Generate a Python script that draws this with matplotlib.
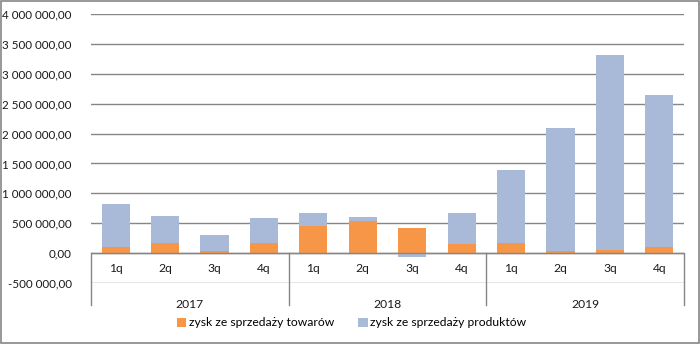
import numpy as np
import matplotlib
matplotlib.use("Agg")
import matplotlib.pyplot as plt
from matplotlib.ticker import FuncFormatter
from matplotlib.patches import Rectangle

# Data (PLN)
years = ["2017", "2018", "2019"]
quarters = ["1q", "2q", "3q", "4q"]
towary = [100000, 167000, 40000, 167000,
          455000, 533000, 417000, 150000,
          167000, 35000, 55000, 100000]
produkty = [717000, 450000, 265000, 417000,
            212000, 67000, -60000, 517000,
            1216000, 2050000, 3262000, 2550000]

plt.rcParams['font.family'] = ['Lato', 'DejaVu Sans']

c_tow = "#F79646"
c_prod = "#A9B9D8"
grid_c = "#868686"
txt_c = "#1a1a1a"

fig = plt.figure(figsize=(7, 3.44), dpi=100)
ax = fig.add_axes([91/700, 1-283/344, (684-91)/700, (283-14)/344])

x = np.arange(len(towary))
tow = np.array(towary)
prod = np.array(produkty)
# stacking like Excel: positive values go on top, negative ones below zero
bottom_prod = np.where(prod >= 0, np.maximum(tow, 0), 0)
ax.bar(x, tow, width=0.57, color=c_tow, label="zysk ze sprzedaży towarów", zorder=3)
ax.bar(x, prod, width=0.57, bottom=bottom_prod, color=c_prod,
       label="zysk ze sprzedaży produktów", zorder=3)

ax.set_xlim(-0.5, len(x) - 0.5)
ax.set_ylim(-500000, 4000000)
ax.set_yticks(np.arange(-500000, 4000001, 500000))
ax.yaxis.set_major_formatter(FuncFormatter(
    lambda v, p: f"{v:,.2f}".replace(",", " ").replace(".", ",")))
ax.tick_params(axis='y', length=0, pad=14, labelsize=8.4, labelcolor=txt_c)
ax.set_xticks([])
for s in ax.spines.values():
    s.set_visible(False)
ax.grid(axis='y', color=grid_c, linewidth=1, zorder=0)
ax.axhline(0, color=grid_c, linewidth=1, zorder=4)

# two-level category axis (quarters / years)
trans = ax.get_xaxis_transform()
for i in x:
    ax.text(i, -250000, quarters[i % 4], ha='center', va='center',
            fontsize=8.7, color=txt_c)
for k, y in enumerate(years):
    ax.text(4*k + 1.5, -22/269, y, ha='center', va='center',
            fontsize=8.7, color=txt_c, transform=trans)
for b in [-0.5, 3.5, 7.5, 11.5]:
    ax.plot([b, b], [30/269, -22/269], color=grid_c, linewidth=1,
            clip_on=False, transform=trans, zorder=4)

fig.legend(loc='center', bbox_to_anchor=(0.502, 1-323/344), ncol=2, frameon=False,
           fontsize=8.7, handlelength=0.8, handleheight=0.8, handletextpad=0.2,
           columnspacing=2.0)

fig.patches.append(Rectangle((0.001, 0.002), 0.997, 0.995, transform=fig.transFigure,
                             fill=False, edgecolor=grid_c, linewidth=1.2))

fig.savefig("out.png", dpi=100)
